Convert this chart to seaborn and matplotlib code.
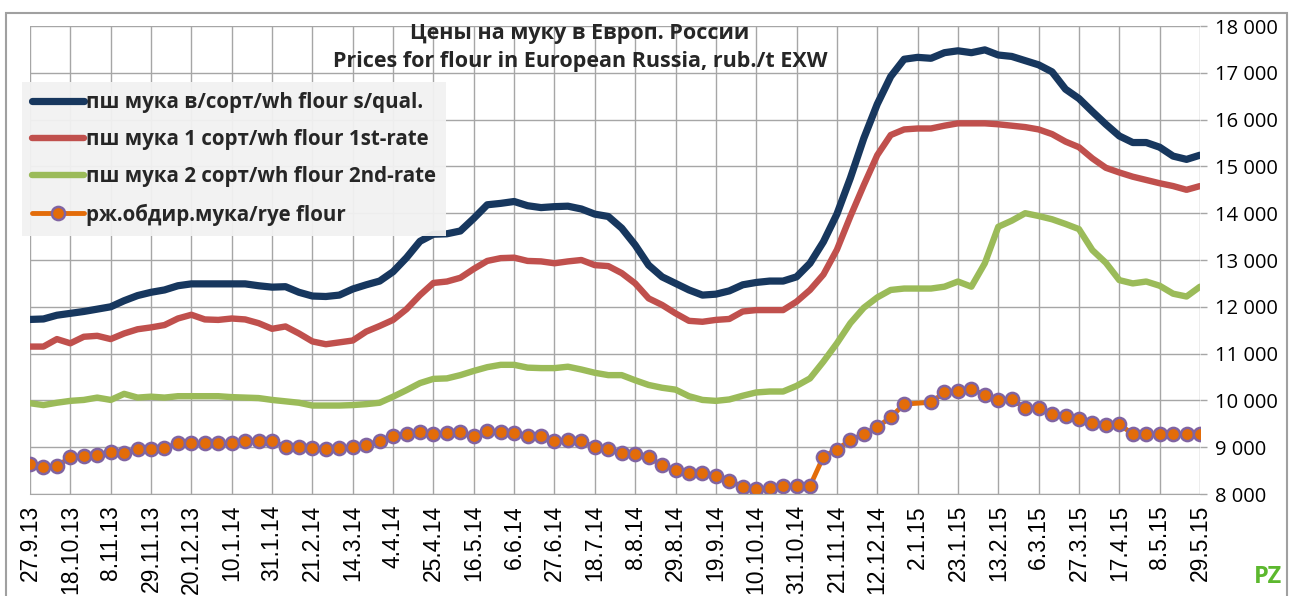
import pandas as pd
import matplotlib.pyplot as plt
import seaborn as sns
from matplotlib.patches import Rectangle

# weekly quotes, 27.9.13 .. 29.5.15
weeks = pd.date_range("2013-09-27", "2015-05-29", freq="7D")

tick_labels = ["27.9.13", "18.10.13", "8.11.13", "29.11.13", "20.12.13", "10.1.14",
               "31.1.14", "21.2.14", "14.3.14", "4.4.14", "25.4.14", "16.5.14",
               "6.6.14", "27.6.14", "18.7.14", "8.8.14", "29.8.14", "19.9.14",
               "10.10.14", "31.10.14", "21.11.14", "12.12.14", "2.1.15", "23.1.15",
               "13.2.15", "6.3.15", "27.3.15", "17.4.15", "8.5.15", "29.5.15"]

series_names = ["пш мука в/сорт/wh flour s/qual.",
                "пш мука 1 сорт/wh flour 1st-rate",
                "пш мука 2 сорт/wh flour 2nd-rate",
                "рж.обдир.мука/rye flour"]

flour_top = [11730, 11740, 11820, 11860, 11900, 11950, 12000, 12130, 12240, 12310,
             12360, 12450, 12490, 12490, 12490, 12490, 12490, 12450, 12420, 12430,
             12310, 12230, 12220, 12250, 12380, 12470, 12550, 12750, 13050, 13400,
             13550, 13560, 13620, 13890, 14180, 14210, 14250, 14160, 14120, 14140,
             14150, 14090, 13980, 13930, 13680, 13320, 12890, 12640, 12500, 12360,
             12250, 12270, 12340, 12470, 12520, 12550, 12550, 12640, 12930, 13390,
             13980, 14750, 15600, 16330, 16920, 17290, 17330, 17310, 17430, 17470,
             17430, 17490, 17380, 17350, 17260, 17170, 17020, 16650, 16450, 16170,
             15900, 15650, 15510, 15510, 15410, 15220, 15150, 15240]

flour_1st = [11150, 11150, 11310, 11220, 11360, 11380, 11310, 11430, 11520, 11560,
             11610, 11750, 11830, 11730, 11720, 11750, 11730, 11650, 11530, 11580,
             11430, 11260, 11200, 11240, 11280, 11470, 11590, 11720, 11950, 12250,
             12510, 12540, 12620, 12810, 12980, 13040, 13050, 12980, 12970, 12930,
             12970, 13000, 12890, 12870, 12720, 12500, 12180, 12040, 11860, 11700,
             11680, 11720, 11740, 11900, 11930, 11930, 11930, 12110, 12360, 12690,
             13220, 13930, 14600, 15240, 15670, 15790, 15810, 15810, 15870, 15920,
             15920, 15920, 15900, 15870, 15840, 15790, 15690, 15530, 15410, 15170,
             14970, 14870, 14780, 14710, 14640, 14580, 14500, 14580]

flour_2nd = [9940, 9900, 9950, 9990, 10010, 10060, 10010, 10140, 10060, 10080,
             10060, 10090, 10090, 10090, 10090, 10070, 10060, 10050, 10010, 9980,
             9950, 9890, 9890, 9890, 9900, 9920, 9950, 10080, 10220, 10370,
             10460, 10470, 10540, 10630, 10710, 10760, 10760, 10700, 10690, 10690,
             10720, 10660, 10590, 10540, 10540, 10430, 10330, 10270, 10230, 10090,
             10010, 9990, 10020, 10100, 10170, 10190, 10190, 10310, 10470, 10830,
             11220, 11650, 11980, 12200, 12360, 12390, 12390, 12390, 12430, 12540,
             12430, 12930, 13710, 13840, 14000, 13940, 13870, 13770, 13660, 13210,
             12940, 12570, 12500, 12540, 12450, 12280, 12220, 12430]

# one week (26.12.14) has no rye quote, the line just bridges it
rye_flour = [8640, 8580, 8600, 8780, 8810, 8830, 8900, 8880, 8960, 8960,
             8980, 9080, 9080, 9080, 9080, 9080, 9140, 9140, 9140, 9000,
             9000, 8980, 8960, 8980, 9000, 9050, 9130, 9230, 9280, 9330,
             9280, 9310, 9330, 9230, 9350, 9330, 9310, 9230, 9230, 9130,
             9150, 9130, 9000, 8960, 8880, 8860, 8780, 8620, 8510, 8440,
             8440, 8390, 8280, 8160, 8110, 8120, 8170, 8170, 8170, 8800,
             8950, 9150, 9280, 9430, 9640, 9920, None, 9960, 10170, 10210,
             10240, 10120, 10010, 10020, 9840, 9840, 9720, 9670, 9600, 9520,
             9470, 9490, 9280, 9280, 9280, 9280, 9280, 9280]

df = pd.DataFrame({"date": weeks, "top": flour_top, "first": flour_1st,
                   "second": flour_2nd, "rye": rye_flour})
df["rye"] = pd.to_numeric(df["rye"])

sns.set_style("white")
plt.rcParams["font.family"] = ["Open Sans", "DejaVu Sans"]

W, H = 1290, 596
fig = plt.figure(figsize=(W / 100, H / 100), dpi=100)
ax = fig.add_axes([30 / W, 1 - 494 / H, 1170 / W, 468 / H])

styles = [("top", "#17375E", 5.2), ("first", "#C0504D", 4.6), ("second", "#9BBB59", 4.6)]
for (col, color, lw), name in zip(styles, series_names[:3]):
    sns.lineplot(data=df, x="date", y=col, color=color, linewidth=lw,
                 errorbar=None, ax=ax, label=name)

rye = df.dropna(subset=["rye"])
sns.lineplot(data=rye, x="date", y="rye", color="#E36C09", linewidth=3.5,
             marker="o", markersize=9.5, markerfacecolor="#E36C09",
             markeredgecolor="#8064A2", markeredgewidth=1.8,
             errorbar=None, ax=ax, label=series_names[3])

ax.set_xlim(weeks[0], weeks[-1])
ax.set_ylim(8000, 18000)
ax.set_xticks(weeks[::3])
ax.set_xticklabels(tick_labels, rotation=90, fontsize=16.5, family="Liberation Sans")
yt = list(range(8000, 18001, 1000))
ax.set_yticks(yt)
ax.set_yticklabels([f"{v:,}".replace(",", " ") for v in yt], fontsize=14.5)
ax.yaxis.tick_right()
ax.tick_params(axis="both", length=5, color="#a6a6a6", width=1, colors="black")
ax.tick_params(axis="x", pad=3)
ax.tick_params(axis="y", pad=6)
ax.grid(True, color="#a6a6a6", linewidth=1.0)
ax.set_xlabel("")
ax.set_ylabel("")
for side, sp in ax.spines.items():
    sp.set_visible(side == "bottom")
ax.spines["bottom"].set_color("#a6a6a6")

leg = ax.legend(loc="upper left", bbox_to_anchor=(22 / W, 1 - 82 / H),
                bbox_transform=fig.transFigure,
                prop={"weight": "bold", "size": 14.8},
                frameon=True, fancybox=False, facecolor="#f2f2f2", edgecolor="none",
                framealpha=0.95, handlelength=2.5, handletextpad=0.1,
                labelspacing=0.78, borderpad=0.5, borderaxespad=0)

fig.text(580 / W, 1 - 33 / H, "Цены на муку в Европ. России",
         ha="center", va="center", fontsize=15.5, fontweight="bold")
fig.text(580 / W, 1 - 62 / H, "Prices for flour in European Russia, rub./t EXW",
         ha="center", va="center", fontsize=15.5, fontweight="bold")

fig.patches.append(Rectangle((6 / W, -0.1), 1281 / W, 1 - 13 / H + 0.1,
                             transform=fig.transFigure, fill=False,
                             edgecolor="#a0a0a0", linewidth=1.5))
fig.text(1268 / W, 1 - 577 / H, "PZ", ha="center", va="center",
         color="#5cb82e", fontsize=17, fontweight="bold")

fig.savefig("out.png", dpi=100)
